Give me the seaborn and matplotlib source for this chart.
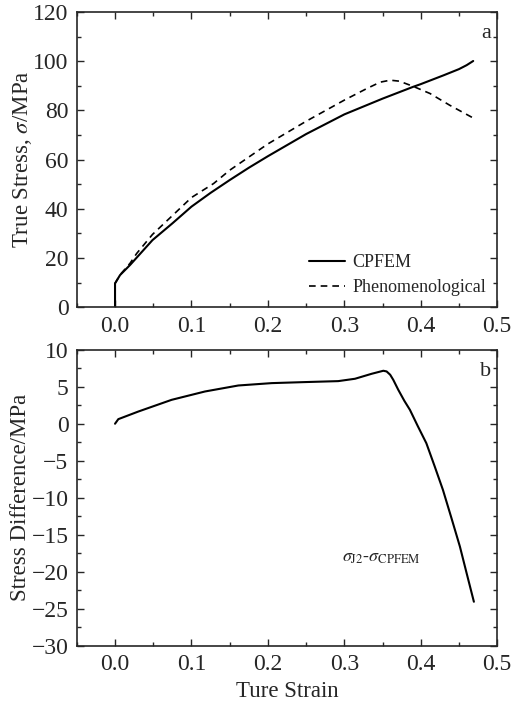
import matplotlib
matplotlib.use("Agg")
import matplotlib.pyplot as plt
import seaborn as sns
from matplotlib.ticker import MultipleLocator

# кривые напряжение-деформация
cp_strain = [0, 0, 0.0066, 0.0197, 0.049, 0.075, 0.1, 0.125, 0.15, 0.175, 0.2, 0.25, 0.3,
             0.35, 0.39, 0.4, 0.43, 0.45, 0.46, 0.4686]
cp_stress = [0, 9.7, 13.1, 17.2, 27.3, 34.1, 40.9, 46.5, 51.7, 56.7, 61.4, 70.4, 78.4,
             84.8, 89.6, 90.7, 94.3, 96.8, 98.4, 100.1]

ph_strain = [0, 0, 0.0066, 0.0197, 0.0284, 0.049, 0.1, 0.129, 0.15, 0.2, 0.25, 0.3, 0.33,
             0.347, 0.36, 0.372, 0.39, 0.412, 0.438, 0.467]
ph_stress = [0, 9.7, 13.2, 17.9, 21.9, 29.6, 44.6, 50.3, 55.7, 66.4, 75.6, 84.2, 89.0,
             91.5, 92.3, 91.9, 89.8, 86.9, 82.1, 77.2]

diff_strain = [0, 0.0043, 0.0305, 0.074, 0.1177, 0.1613, 0.205, 0.2485, 0.292, 0.314,
               0.3357, 0.351, 0.3553, 0.36, 0.364, 0.3705, 0.3785, 0.3858, 0.396, 0.4073,
               0.418, 0.429, 0.44, 0.4512, 0.46, 0.4695]
diff_stress = [0, 0.62, 1.65, 3.23, 4.36, 5.17, 5.49, 5.63, 5.76, 6.08,
               6.75, 7.16, 7.07, 6.62, 5.94, 4.6, 3.1, 1.88, -0.3, -2.63,
               -5.7, -8.94, -12.7, -16.6, -20.2, -24.06]

sns.set_style("ticks")
plt.rcParams["font.family"] = ["Liberation Serif", "DejaVu Serif"]
plt.rcParams["mathtext.fontset"] = "stix"
plt.rcParams["font.size"] = 16.5
plt.rcParams["xtick.direction"] = "in"
plt.rcParams["ytick.direction"] = "in"
plt.rcParams["xtick.top"] = True
plt.rcParams["ytick.right"] = True

fig = plt.figure(figsize=(5.19, 7.08), dpi=100)
ax1 = fig.add_axes([0.148, 0.566, 0.810, 0.417])
ax2 = fig.add_axes([0.148, 0.088, 0.810, 0.418])

sns.lineplot(x=cp_strain, y=cp_stress, ax=ax1, color="black", lw=1.5,
             estimator=None, sort=False, label="CPFEM")
sns.lineplot(x=ph_strain, y=ph_stress, ax=ax1, color="black", lw=1.2,
             estimator=None, sort=False, label="Phenomenological")
ax1.lines[1].set_dashes([4, 3])
ax1.set_xlim(-0.05, 0.5)
ax1.set_ylim(0, 120)
ax1.set_ylabel(r"True Stress, $\sigma$/MPa", labelpad=-1)
ax1.legend(loc="lower right", frameon=False, fontsize=13, handlelength=2.0,
           handletextpad=0.4, labelspacing=0.45, borderaxespad=0.2,
           bbox_to_anchor=(1.0, 0.0))
ax1.text(0.985, 0.96, "a", transform=ax1.transAxes, ha="right", va="top", fontsize=16)

sns.lineplot(x=diff_strain, y=diff_stress, ax=ax2, color="black", lw=1.5,
             estimator=None, sort=False)
ax2.set_xlim(-0.05, 0.5)
ax2.set_ylim(-30, 10)
ax2.set_xlabel("Ture Strain")
ax2.set_ylabel("Stress Difference/MPa", labelpad=0)
ax2.text(0.985, 0.96, "b", transform=ax2.transAxes, ha="right", va="top", fontsize=16)
ax2.text(0.63, 0.297, r"$\sigma_{\rm J2}$-$\sigma_{\rm CPFEM}$", transform=ax2.transAxes,
         ha="left", va="center", fontsize=13)

for ax, ymaj, ymin in [(ax1, 20, 10), (ax2, 5, 2.5)]:
    ax.xaxis.set_major_locator(MultipleLocator(0.1))
    ax.xaxis.set_minor_locator(MultipleLocator(0.05))
    ax.yaxis.set_major_locator(MultipleLocator(ymaj))
    ax.yaxis.set_minor_locator(MultipleLocator(ymin))
    ax.tick_params(which="major", length=5, width=1, labelsize=17, pad=6)
    ax.tick_params(which="minor", length=3, width=1)
    for s in ax.spines.values():
        s.set_linewidth(1.2)
        s.set_visible(True)

plt.savefig("out.png", dpi=100)
plt.close()
